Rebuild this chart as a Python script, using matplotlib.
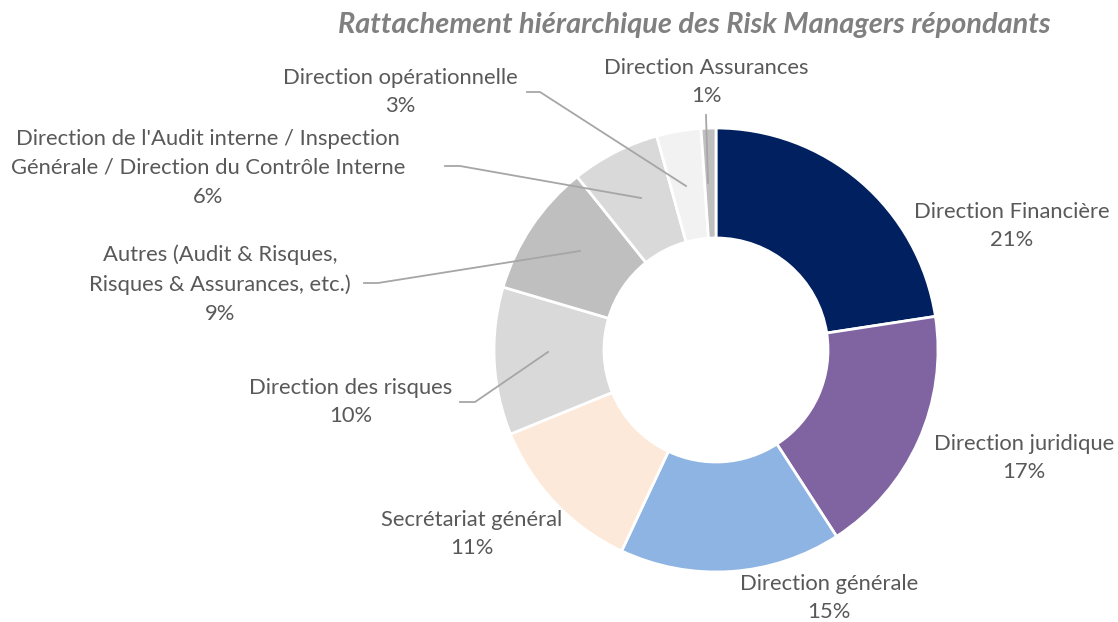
import matplotlib
matplotlib.use("Agg")
import matplotlib.pyplot as plt
import numpy as np

categories = ["Direction Financière", "Direction juridique", "Direction générale",
              "Secrétariat général", "Direction des risques",
              "Autres (Audit & Risques,\nRisques & Assurances, etc.)",
              "Direction de l'Audit interne / Inspection\nGénérale / Direction du Contrôle Interne",
              "Direction opérationnelle", "Direction Assurances"]
values = [21, 17, 15, 11, 10, 9, 6, 3, 1]
colors = ["#002060", "#8064A2", "#8DB4E2", "#FDE9D9", "#D9D9D9",
          "#BFBFBF", "#D9D9D9", "#F2F2F2", "#BFBFBF"]
title = "Rattachement hiérarchique des Risk Managers répondants"

W, H = 1118, 622
CX, CY, R = 716, 350, 222

def px(x, y):
    return ((x - CX) / R, (CY - y) / R)

# label block centres in pixel space (layout)
label_pos = [(1012, 226), (1024, 458), (829, 598), (472, 534), (351, 402),
             (220, 284), (208, 168), (400, 92), (706, 82)]
# leader lines (pixel space) for some labels
leaders = {
    4: [(460, 402), (475, 402), (548, 352)],
    5: [(364, 283), (378, 283), (580, 251)],
    6: [(445, 166), (460, 166), (641, 198)],
    7: [(527, 92), (540, 92), (686, 186)],
    8: [(706, 115), (706, 115), (708, 183)],
}

plt.rcParams['font.family'] = ['Lato', 'DejaVu Sans']
fig = plt.figure(figsize=(W / 100, H / 100), dpi=100)
ax = fig.add_axes([0, 0, 1, 1])
ax.set_aspect('equal')
ax.axis('off')

ax.pie(values, colors=colors, startangle=90, counterclock=False, radius=1.0,
       wedgeprops=dict(width=110 / R, edgecolor='white', linewidth=2))
ax.set_xlim((0 - CX) / R, (W - CX) / R)
ax.set_ylim((CY - H) / R, (CY - 0) / R)

for i, (cat, v) in enumerate(zip(categories, values)):
    x, y = px(*label_pos[i])
    ax.text(x, y, f"{cat}\n{v}%", ha='center', va='center', fontsize=15.8,
            color='#595959', linespacing=1.55)
for i, pts in leaders.items():
    xs, ys = zip(*[px(a, b) for a, b in pts])
    ax.plot(xs, ys, color='#A6A6A6', lw=1.3)

fig.text(694 / W, 1 - 25 / H, title, ha='center', va='center', fontsize=20.8,
         fontweight='bold', style='italic', color='#808080')

fig.savefig("out.png", dpi=100)
